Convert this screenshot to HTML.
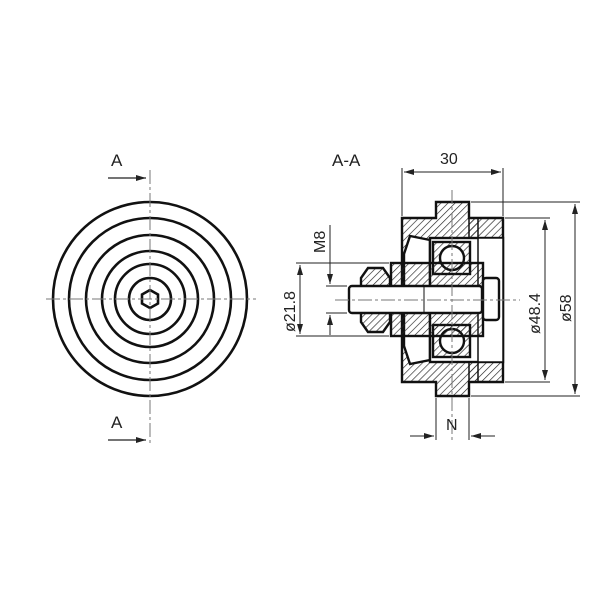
<!DOCTYPE html><html><head><style>body{margin:0;background:#fff}svg{display:block}text{font-family:"Liberation Sans",sans-serif;fill:#222}</style></head><body>
<svg width="600" height="600" viewBox="0 0 600 600" xmlns="http://www.w3.org/2000/svg">
<defs><pattern id="h" width="5" height="5" patternUnits="userSpaceOnUse" patternTransform="rotate(45)"><line x1="0" y1="0" x2="0" y2="5" stroke="#222" stroke-width="1.3"/></pattern>
<marker id="ar" markerWidth="10" markerHeight="6" refX="10" refY="3" orient="auto-start-reverse" markerUnits="userSpaceOnUse"><path d="M0,0 L10,3 L0,6z" fill="#222"/></marker></defs>
<!-- left view -->
<g fill="none" stroke="#111" stroke-width="2.6">
<circle cx="150" cy="299" r="97"/><circle cx="150" cy="299" r="81"/><circle cx="150" cy="299" r="64"/><circle cx="150" cy="299" r="48"/><circle cx="150" cy="299" r="35"/><circle cx="150" cy="299" r="21"/>
<polygon points="150,290 158,294.5 158,303.5 150,308 142,303.5 142,294.5"/></g>
<g stroke="#777" stroke-width="1" stroke-dasharray="14,3,3,3"><line x1="46" y1="299" x2="256" y2="299"/><line x1="150" y1="170" x2="150" y2="445"/></g>
<text x="111" y="166" font-size="17">A</text><text x="111" y="428" font-size="17">A</text>
<line x1="108" y1="178" x2="146" y2="178" stroke="#222" stroke-width="1.2" marker-end="url(#ar)"/>
<line x1="108" y1="440" x2="146" y2="440" stroke="#222" stroke-width="1.2" marker-end="url(#ar)"/>
<text x="332" y="166" font-size="17">A-A</text>
<!-- section -->
<g stroke="#111" stroke-width="2.4">
<path d="M402,218 H436 V202 H469 V218 H503 V382 H469 V396 H436 V382 H402 Z M430,240 L410,236 L404,254 V346 L410,364 L430,360 Z" fill="url(#h)" fill-rule="evenodd"/>
<rect x="430" y="238" width="73" height="124" fill="#fff"/>
<rect x="478" y="238" width="25" height="124" fill="#fff" stroke-width="1.5"/>
<path d="M469,218 V238 H478 V218 Z M469,382 V362 H478 V382 Z" fill="url(#h)" stroke-width="1.5"/>
<rect x="433" y="242" width="37" height="32" fill="url(#h)"/><circle cx="452" cy="258" r="12" fill="#fff"/>
<rect x="433" y="325" width="37" height="32" fill="url(#h)"/><circle cx="452" cy="341" r="12" fill="#fff"/>
<rect x="391" y="263" width="92" height="73" fill="url(#h)"/>
<path d="M361,278 L368,268 H383 L390,278 V322 L383,332 H368 L361,322 Z" fill="url(#h)"/>
<rect x="349" y="286" width="133" height="27" rx="3" fill="#fff"/>
<rect x="483" y="278" width="16" height="42" rx="3" fill="#fff"/>
</g>
<line x1="424" y1="286" x2="424" y2="313" stroke="#111" stroke-width="1"/>
<g stroke="#777" stroke-width="1" stroke-dasharray="14,3,3,3"><line x1="335" y1="300" x2="520" y2="300"/><line x1="452" y1="190" x2="452" y2="440"/></g>
<!-- dims -->
<g stroke="#222" stroke-width="1" fill="none">
<line x1="402" y1="168" x2="402" y2="216"/><line x1="503" y1="168" x2="503" y2="216"/>
<line x1="404" y1="172" x2="501" y2="172" marker-start="url(#ar)" marker-end="url(#ar)"/>
<line x1="471" y1="202" x2="580" y2="202"/><line x1="505" y1="218" x2="550" y2="218"/>
<line x1="505" y1="382" x2="550" y2="382"/><line x1="471" y1="396" x2="580" y2="396"/>
<line x1="545" y1="220" x2="545" y2="380" marker-start="url(#ar)" marker-end="url(#ar)"/>
<line x1="575" y1="204" x2="575" y2="394" marker-start="url(#ar)" marker-end="url(#ar)"/>
<line x1="436" y1="398" x2="436" y2="440"/><line x1="469" y1="398" x2="469" y2="440"/>
<line x1="410" y1="436" x2="434" y2="436" marker-end="url(#ar)"/><line x1="495" y1="436" x2="471" y2="436" marker-end="url(#ar)"/>
<line x1="296" y1="263" x2="389" y2="263"/><line x1="296" y1="336" x2="389" y2="336"/>
<line x1="300" y1="265" x2="300" y2="334" marker-start="url(#ar)" marker-end="url(#ar)"/>
<line x1="326" y1="286" x2="347" y2="286"/><line x1="326" y1="313" x2="347" y2="313"/>
<line x1="330" y1="225" x2="330" y2="284" marker-end="url(#ar)"/><line x1="330" y1="335" x2="330" y2="315" marker-end="url(#ar)"/>
</g>
<text x="440" y="164" font-size="16">30</text>
<text x="446" y="430" font-size="16">N</text>
<text transform="translate(540,334) rotate(-90)" font-size="16">ø48.4</text>
<text transform="translate(571,322) rotate(-90)" font-size="16">ø58</text>
<text transform="translate(295,332) rotate(-90)" font-size="16">ø21.8</text>
<text transform="translate(325,253) rotate(-90)" font-size="16">M8</text>
</svg></body></html>
